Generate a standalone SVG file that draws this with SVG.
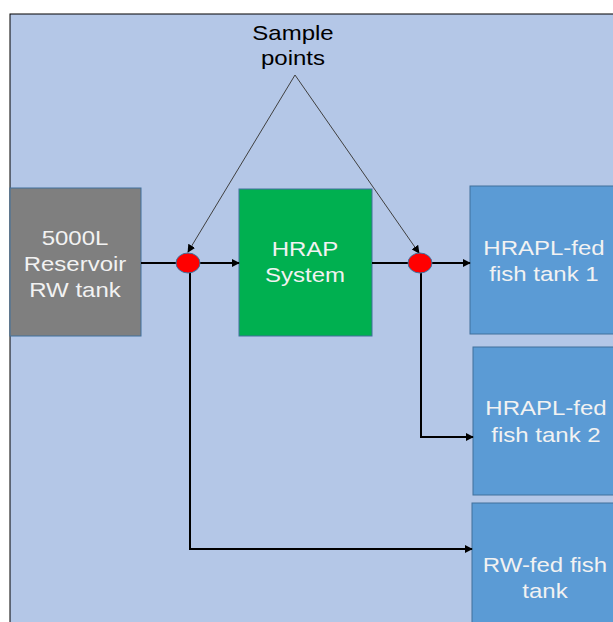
<svg xmlns="http://www.w3.org/2000/svg" width="613" height="622" viewBox="0 0 613 622">
<defs>
<style>
.box{stroke:#41719c;stroke-width:1}
.lbl{font-family:"Liberation Sans",Arial,sans-serif;font-size:20px;fill:#f2f2f2;text-anchor:middle}
.cap{font-family:"Liberation Sans",Arial,sans-serif;font-size:20px;fill:#000;text-anchor:middle}
.flow{fill:none;stroke:#000;stroke-width:2}
.ptr{fill:none;stroke:#404040;stroke-width:1}
</style>
<marker id="ah" viewBox="0 0 10 10" refX="9" refY="5" markerWidth="8" markerHeight="8" markerUnits="userSpaceOnUse" orient="auto">
<path d="M0,0 L10,5 L0,10 z" fill="#000"/>
</marker>
<marker id="ah2" viewBox="0 0 10 10" refX="9" refY="5" markerWidth="8" markerHeight="8" markerUnits="userSpaceOnUse" orient="auto">
<path d="M0,0 L10,5 L0,10 z" fill="#000"/>
</marker>
</defs>
<rect x="0" y="0" width="613" height="622" fill="#fff"/>
<rect x="10" y="14" width="610" height="615" fill="#b4c7e7" stroke="#000" stroke-width="1"/>

<g id="reservoir">
<rect class="box" x="10" y="188" width="131" height="148" fill="#7f7f7f"/>
<text class="lbl" transform="translate(75,245) scale(1.2,1)">5000L</text>
<text class="lbl" transform="translate(75,271) scale(1.2,1)">Reservoir</text>
<text class="lbl" transform="translate(75,297) scale(1.2,1)">RW tank</text>
</g>
<g id="hrap">
<rect class="box" x="239" y="189" width="133" height="147" fill="#00b050"/>
<text class="lbl" transform="translate(305,256) scale(1.2,1)">HRAP</text>
<text class="lbl" transform="translate(305,282) scale(1.2,1)">System</text>
</g>
<g id="tank1">
<rect class="box" x="470" y="186" width="150" height="148" fill="#5b9bd5"/>
<text class="lbl" transform="translate(544,255) scale(1.2,1)">HRAPL-fed</text>
<text class="lbl" transform="translate(544,281) scale(1.2,1)">fish tank 1</text>
</g>
<g id="tank2">
<rect class="box" x="473" y="347" width="147" height="148" fill="#5b9bd5"/>
<text class="lbl" transform="translate(546,415) scale(1.2,1)">HRAPL-fed</text>
<text class="lbl" transform="translate(546,442) scale(1.2,1)">fish tank 2</text>
</g>
<g id="rwtank">
<rect class="box" x="472" y="503" width="148" height="130" fill="#5b9bd5"/>
<text class="lbl" transform="translate(545,572) scale(1.2,1)">RW-fed fish</text>
<text class="lbl" transform="translate(545,598) scale(1.2,1)">tank</text>
</g>
<g id="sample-label">
<text class="cap" transform="translate(293,40) scale(1.2,1)">Sample</text>
<text class="cap" transform="translate(293,65) scale(1.2,1)">points</text>
</g>

<g id="connectors">
<path class="flow" d="M141,263 H239" marker-end="url(#ah)"/>
<path class="flow" d="M372,263 H470" marker-end="url(#ah)"/>
<path class="flow" d="M190,263 V549 H472" marker-end="url(#ah)"/>
<path class="flow" d="M421,263 V437 H473" marker-end="url(#ah)"/>
<path class="ptr" d="M295,75 L188,252" marker-end="url(#ah2)"/>
<path class="ptr" d="M295,75 L419,253" marker-end="url(#ah2)"/>
</g>

<g id="sample-point-1">
<ellipse cx="188" cy="263" rx="12" ry="10" fill="#ff0000" stroke="#41719c" stroke-width="1"/>
</g>
<g id="sample-point-2">
<ellipse cx="420" cy="263" rx="12" ry="10" fill="#ff0000" stroke="#41719c" stroke-width="1"/>
</g>
</svg>
